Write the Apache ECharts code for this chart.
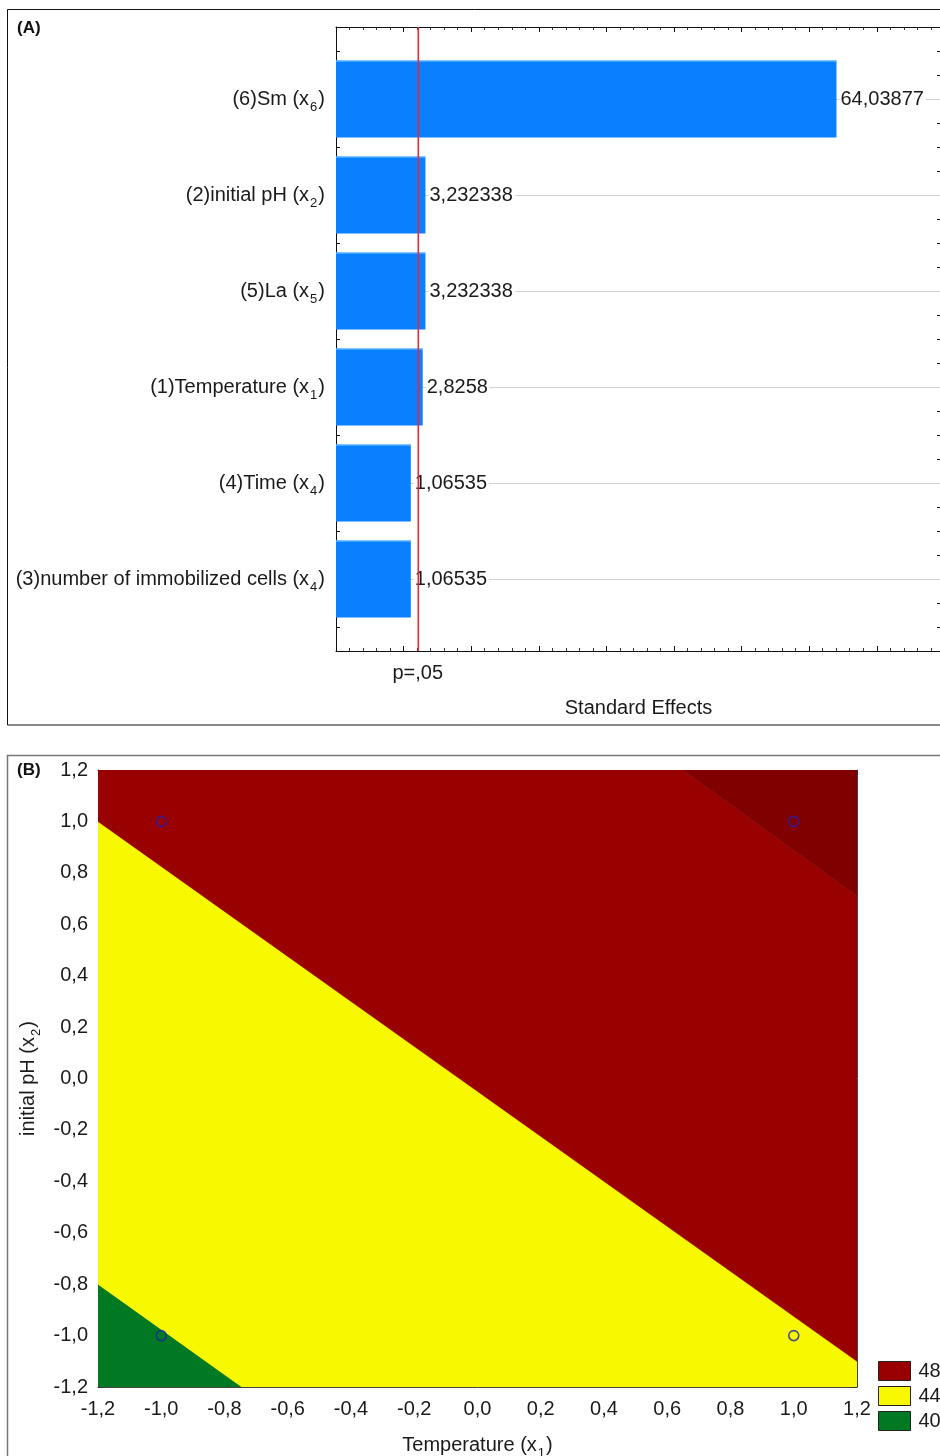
<!DOCTYPE html>
<html><head><meta charset="utf-8">
<script src="https://cdn.jsdelivr.net/npm/echarts@6/dist/echarts.min.js"></script>
<style>html,body{margin:0;padding:0;background:#fff}#c{width:940px;height:1456px}</style>
</head><body><div id="c"></div>
<script>
// ---------- Panel A data (Pareto of standardized effects) ----------
const effectNames = ['(6)Sm', '(2)initial pH', '(5)La', '(1)Temperature', '(4)Time', '(3)number of immobilized cells'];
const effectSubs = ['6', '2', '5', '1', '4', '4'];
const effectValues = [64.03877, 3.232338, 3.232338, 2.8258, 1.06535, 1.06535];
const pThreshold = [2.1];
const pLabel = 'p=,05';
const effectAxisName = 'Standard Effects';

// ---------- Panel B data (contour plot) ----------
const xTickValuesB = [-1.2, -1.0, -0.8, -0.6, -0.4, -0.2, 0.0, 0.2, 0.4, 0.6, 0.8, 1.0, 1.2];
const xTickLabelsB = ['-1,2', '-1,0', '-0,8', '-0,6', '-0,4', '-0,2', '0,0', '0,2', '0,4', '0,6', '0,8', '1,0', '1,2'];
const yTickLabelsB = ['-1,2', '-1,0', '-0,8', '-0,6', '-0,4', '-0,2', '0,0', '0,2', '0,4', '0,6', '0,8', '1,0', '1,2'];
const regionGreen = [[-1.2, -1.2], [-1.2, -0.8], [-0.745, -1.2]];
const regionYellow = [[-1.2, -0.8], [-1.2, 1.0], [1.2, -1.1], [1.2, -1.2], [-0.745, -1.2]];
const regionRed = [[-1.2, 1.0], [-1.2, 1.2], [0.65, 1.2], [1.2, 0.71], [1.2, -1.1]];
const regionDarkRed = [[0.65, 1.2], [1.2, 1.2], [1.2, 0.71]];
const designPoints = [[-1, 1], [1, 1], [-1, -1], [1, -1]];
const legendLevels = ['48', '44', '40'];

const FONT = '"Liberation Sans", Arial, sans-serif';
const TXT = '#1a1a1a';
const subRich = {
  a: { fontSize: 20, fontFamily: FONT, color: TXT, lineHeight: 29 },
  s: { fontSize: 13, fontFamily: FONT, color: TXT, verticalAlign: 'bottom', lineHeight: 13, padding: [0, 1, 0, 1] }
};

const chart = echarts.init(document.getElementById('c'), null, { renderer: 'canvas' });

function tickLabel(labels, v) {
  const idx = Math.round((v - xTickValuesB[0]) / 0.2);
  return labels[idx] !== undefined ? labels[idx] : '';
}

function polySeries(name, pts, color) {
  return {
    type: 'custom', name: name, xAxisIndex: 2, yAxisIndex: 2, data: pts, encode: { x: 0, y: 1 },
    silent: true, clip: true, z: 1,
    itemStyle: { color: color },
    renderItem: function (params, api) {
      if (params.dataIndex !== 0) return null;
      const points = pts.map(function (p) { return api.coord(p); });
      return { type: 'polygon', shape: { points: points }, style: { fill: color, stroke: color, lineWidth: 0.6 } };
    }
  };
}

const lineA = { show: true, onZero: false, lineStyle: { color: '#111', width: 1 } };
const lineB = { show: true, onZero: false, lineStyle: { color: '#444', width: 1 } };
const tickA = { show: true, inside: true, length: 5, lineStyle: { color: '#111', width: 1 } };
const minorA = { show: true, splitNumber: 5, length: 3, lineStyle: { color: '#333', width: 1 } };
const tickB = { show: true, inside: true, length: 5, lineStyle: { color: '#333', width: 1 } };

const option = {
  animation: false,
  backgroundColor: '#fff',
  textStyle: { fontFamily: FONT },
  grid: [
    { left: 336, top: 27, width: 605, height: 624, outerBoundsMode: 'none', containLabel: false },
    { left: 98, top: 770, width: 759, height: 617, outerBoundsMode: 'none', containLabel: false }
  ],
  xAxis: [
    {
      gridIndex: 0, type: 'value', min: -10, max: 79.5, interval: 10, position: 'bottom',
      axisLine: lineA, axisTick: tickA, minorTick: minorA, axisLabel: { show: false }, splitLine: { show: false },
      name: effectAxisName, nameLocation: 'middle', nameGap: 47,
      nameTextStyle: { fontSize: 20, color: TXT, fontFamily: FONT }
    },
    {
      gridIndex: 0, type: 'value', min: -10, max: 79.5, interval: 10, position: 'top',
      axisLine: lineA, axisTick: tickA, minorTick: minorA, axisLabel: { show: false }, splitLine: { show: false }
    },
    {
      gridIndex: 1, type: 'value', min: -1.2, max: 1.2, interval: 0.2, position: 'bottom',
      axisLine: lineB, axisTick: tickB, splitLine: { show: false },
      axisLabel: { show: true, margin: 12, fontSize: 20, color: TXT, fontFamily: FONT,
        formatter: function (v) { return tickLabel(xTickLabelsB, v); } },
      name: '{a|Temperature (x}{s|1}{a|)}', nameLocation: 'middle', nameGap: 44,
      nameTextStyle: { rich: subRich }
    },
    {
      gridIndex: 1, type: 'value', min: -1.2, max: 1.2, interval: 0.2, position: 'top',
      axisLine: lineB, axisTick: tickB, axisLabel: { show: false }, splitLine: { show: false }
    }
  ],
  yAxis: [
    {
      gridIndex: 0, type: 'value', inverse: true, min: -0.75, max: 5.75, interval: 0.25, position: 'left',
      axisLine: lineA,
      axisTick: { show: true, inside: true, length: 4, lineStyle: { color: '#111' } },
      splitLine: { show: false },
      axisLabel: {
        show: true, margin: 11, rich: subRich,
        formatter: function (v) {
          const i = Math.round(v);
          if (Math.abs(v - i) > 1e-6 || i < 0 || i >= effectNames.length) return '';
          return '{a|' + effectNames[i] + ' (x}{s|' + effectSubs[i] + '}{a|)}';
        }
      }
    },
    {
      gridIndex: 0, type: 'value', inverse: true, min: -0.75, max: 5.75, interval: 0.25, position: 'right',
      axisLine: lineA,
      axisTick: { show: true, inside: true, length: 4, lineStyle: { color: '#111' } },
      splitLine: { show: false }, axisLabel: { show: false }
    },
    {
      gridIndex: 1, type: 'value', min: -1.2, max: 1.2, interval: 0.2, position: 'left',
      axisLine: lineB, axisTick: tickB, splitLine: { show: false },
      axisLabel: { show: true, margin: 10, fontSize: 20, color: TXT, fontFamily: FONT,
        formatter: function (v) { return tickLabel(yTickLabelsB, v); } },
      name: '{a|initial pH (x}{s|2}{a|)}', nameLocation: 'middle', nameGap: 54, nameRotate: 90,
      nameTextStyle: { rich: subRich }
    },
    {
      gridIndex: 1, type: 'value', min: -1.2, max: 1.2, interval: 0.2, position: 'right',
      axisLine: lineB, axisTick: tickB, axisLabel: { show: false }, splitLine: { show: false }
    }
  ],
  legend: {
    data: legendLevels, orient: 'vertical', left: 878, top: 1361, padding: 0,
    itemWidth: 32, itemHeight: 19, itemGap: 5, icon: 'rect', selectedMode: false,
    itemStyle: { borderColor: '#222', borderWidth: 1 },
    textStyle: { fontSize: 20, color: TXT, fontFamily: FONT, padding: [0, 0, 0, 3] }
  },
  graphic: [
    { type: 'rect', silent: true, z: 100, shape: { x: 7.5, y: 9.5, width: 960, height: 715.5 }, style: { fill: 'none', stroke: '#111', lineWidth: 1 } },
    { type: 'text', silent: true, z: 100, x: 17, y: 20, style: { text: '(A)', font: 'bold 17px ' + FONT, fill: '#111' } },
    { type: 'rect', silent: true, z: 100, shape: { x: 7.5, y: 755.5, width: 960, height: 760 }, style: { fill: 'none', stroke: '#777', lineWidth: 1.5 } },
    { type: 'text', silent: true, z: 100, x: 17, y: 762, style: { text: '(B)', font: 'bold 17px ' + FONT, fill: '#111' } }
  ],
  series: [
    {
      type: 'custom', name: 'effects', xAxisIndex: 0, yAxisIndex: 0,
      data: effectValues.map(function (v, i) { return [v, i]; }), encode: { x: 0, y: 1 },
      clip: false, silent: true, z: 2,
      renderItem: function (params, api) {
        const v = api.value(0), i = api.value(1);
        const cs = params.coordSys;
        const start = api.coord([-10, i]);
        const end = api.coord([v, i]);
        const h = api.size([0, 0.8])[1];
        const ly = Math.round(end[1]);
        return {
          type: 'group', children: [
            { type: 'rect', shape: { x: cs.x, y: ly, width: cs.width, height: 1 }, style: { fill: '#d2d2d2' } },
            { type: 'rect', shape: { x: start[0], y: end[1] - h / 2, width: end[0] - start[0], height: h }, style: { fill: '#0a7fff' } },
            { type: 'rect', shape: { x: start[0], y: end[1] - h / 2, width: end[0] - start[0], height: 1 }, style: { fill: '#7cc8ff' } },
            { type: 'text', style: { text: String(v).replace('.', ','), x: end[0] + 3, y: end[1], align: 'left', verticalAlign: 'middle', fontSize: 20, fontFamily: FONT, fill: TXT, backgroundColor: '#fff', padding: [0, 2, 0, 1] } }
          ]
        };
      }
    },
    {
      type: 'custom', name: 'threshold', xAxisIndex: 0, yAxisIndex: 0,
      data: pThreshold.map(function (p) { return [p, 0]; }), encode: { x: 0, y: 1 },
      clip: false, silent: true, z: 5,
      renderItem: function (params, api) {
        const cs = params.coordSys;
        const x = api.coord([api.value(0), 0])[0];
        return {
          type: 'group', children: [
            { type: 'rect', shape: { x: Math.round(x) - 0.5, y: cs.y, width: 1.6, height: cs.height }, style: { fill: '#e8283a' } },
            { type: 'text', style: { text: pLabel, x: x, y: cs.y + cs.height + 22, align: 'center', verticalAlign: 'middle', fontSize: 20, fontFamily: FONT, fill: TXT } }
          ]
        };
      }
    },
    polySeries('40', regionGreen, '#007a22'),
    polySeries('44', regionYellow, '#f8f800'),
    polySeries('48', regionRed, '#990000'),
    polySeries('>48', regionDarkRed, '#800000'),
    {
      type: 'scatter', name: 'design', xAxisIndex: 2, yAxisIndex: 2, data: designPoints,
      symbol: 'circle', symbolSize: 10, silent: true, z: 4,
      itemStyle: { color: 'rgba(0,0,0,0)', borderColor: '#2020b0', borderWidth: 1.6 }
    }
  ]
};
chart.setOption(option);
</script>
</body></html>
